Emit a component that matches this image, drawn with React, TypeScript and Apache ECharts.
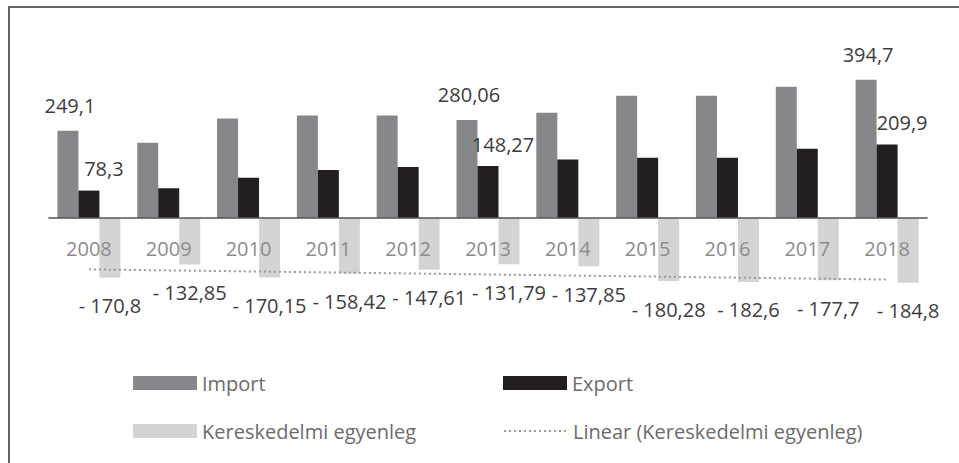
import React, { useEffect, useRef } from "react";
import * as echarts from "echarts";

const categories = ["2008", "2009", "2010", "2011", "2012", "2013", "2014", "2015", "2016", "2017", "2018"];
const importValues = [249.1, 215, 284, 293, 293, 280.06, 301, 349, 349, 375, 394.7];
const exportValues = [78.3, 85, 115, 137, 146, 148.27, 167, 172, 172, 198, 209.9];
const balanceValues = [-170.8, -132.85, -170.15, -158.42, -147.61, -131.79, -137.85, -180.28, -182.6, -177.7, -184.8];
const labeledImport = [0, 5, 10];
const labeledExport = [0, 5, 10];

// Linear trendline (least squares fit of the balance series), as in the source chart
function linearTrend(values: number[]): number[] {
  const n = values.length;
  const xs = values.map((_, i) => i + 1);
  const mx = xs.reduce((a, b) => a + b, 0) / n;
  const my = values.reduce((a, b) => a + b, 0) / n;
  let sxy = 0;
  let sxx = 0;
  xs.forEach((x, i) => {
    sxy += (x - mx) * (values[i] - my);
    sxx += (x - mx) * (x - mx);
  });
  const slope = sxy / sxx;
  return xs.map((x) => +(my + slope * (x - mx)).toFixed(2));
}

const fmt = (v: number) => String(Math.abs(v)).replace(".", ",");

const FONT = "'Open Sans', sans-serif";

export default function App() {
  const ref = useRef<HTMLDivElement>(null);

  useEffect(() => {
    if (!ref.current) return;
    const chart = echarts.init(ref.current, undefined, { renderer: "svg" });
    const trend = linearTrend(balanceValues);

    const legendBase = {
      itemWidth: 64,
      itemHeight: 14,
      textStyle: { fontFamily: FONT, fontSize: 20, color: "#6b6b6b" },
      selectedMode: false as const,
    };

    chart.setOption({
      animation: false,
      backgroundColor: "#ffffff",
      grid: { left: 49, right: 32, top: 78, bottom: 175, containLabel: false },
      xAxis: {
        type: "category",
        data: categories,
        z: 10,
        axisLine: { show: true, onZero: true, lineStyle: { color: "#555555", width: 1.5 } },
        axisTick: { show: false },
        axisLabel: { margin: -50, fontFamily: FONT, fontSize: 20, color: "#8c8c8c" },
        splitLine: { show: false },
      },
      yAxis: {
        type: "value",
        min: -200,
        max: 400,
        show: false,
        splitLine: { show: false },
      },
      legend: [
        { ...legendBase, left: 128, top: 368, data: [{ name: "Import", icon: "rect" }] },
        { ...legendBase, left: 498, top: 368, data: [{ name: "Export", icon: "rect" }] },
        { ...legendBase, left: 128, top: 416, data: [{ name: "Kereskedelmi egyenleg", icon: "rect" }] },
        {
          ...legendBase,
          left: 498,
          top: 416,
          itemStyle: { opacity: 0 },
          data: [{ name: "Linear (Kereskedelmi egyenleg)" }],
        },
      ],
      series: [
        {
          name: "Import",
          type: "bar",
          barWidth: 21,
          barGap: "0%",
          itemStyle: { color: "#86878a" },
          data: importValues.map((v, i) => ({
            value: v,
            label: { show: labeledImport.includes(i) },
          })),
          label: {
            position: "top",
            distance: 15,
            offset: [2, 0],
            fontFamily: FONT,
            fontSize: 20,
            color: "#3d3d3d",
            formatter: (p: any) => fmt(p.value),
          },
        },
        {
          name: "Export",
          type: "bar",
          barWidth: 21,
          barGap: "0%",
          itemStyle: { color: "#231f20" },
          data: exportValues.map((v, i) => ({
            value: v,
            label: { show: labeledExport.includes(i) },
          })),
          label: {
            position: "top",
            distance: 12,
            offset: [15, 0],
            fontFamily: FONT,
            fontSize: 20,
            color: "#3d3d3d",
            formatter: (p: any) => fmt(p.value),
          },
        },
        {
          name: "Kereskedelmi egyenleg",
          type: "bar",
          barWidth: 21,
          barGap: "0%",
          itemStyle: { color: "#d4d4d6" },
          data: balanceValues,
          label: {
            show: true,
            position: "bottom",
            distance: 18,
            fontFamily: FONT,
            fontSize: 20,
            color: "#3d3d3d",
            formatter: (p: any) => "- " + fmt(p.value),
          },
        },
        {
          name: "Linear (Kereskedelmi egyenleg)",
          type: "line",
          data: trend,
          symbol: "none",
          silent: true,
          z: 5,
          lineStyle: { color: "#9a9a9a", width: 2, type: [2, 3] },
          itemStyle: { color: "#9a9a9a" },
        },
      ],
      graphic: [
        {
          type: "polyline",
          shape: { points: [[9, 463], [9, 7], [959, 7]] },
          style: { stroke: "#333333", lineWidth: 1.5, fill: "none" },
          silent: true,
        },
      ],
    });

    return () => chart.dispose();
  }, []);

  return (
    <div
      ref={ref}
      style={{ position: "fixed", left: 0, top: 0, width: 959, height: 463, background: "#fff" }}
    />
  );
}
